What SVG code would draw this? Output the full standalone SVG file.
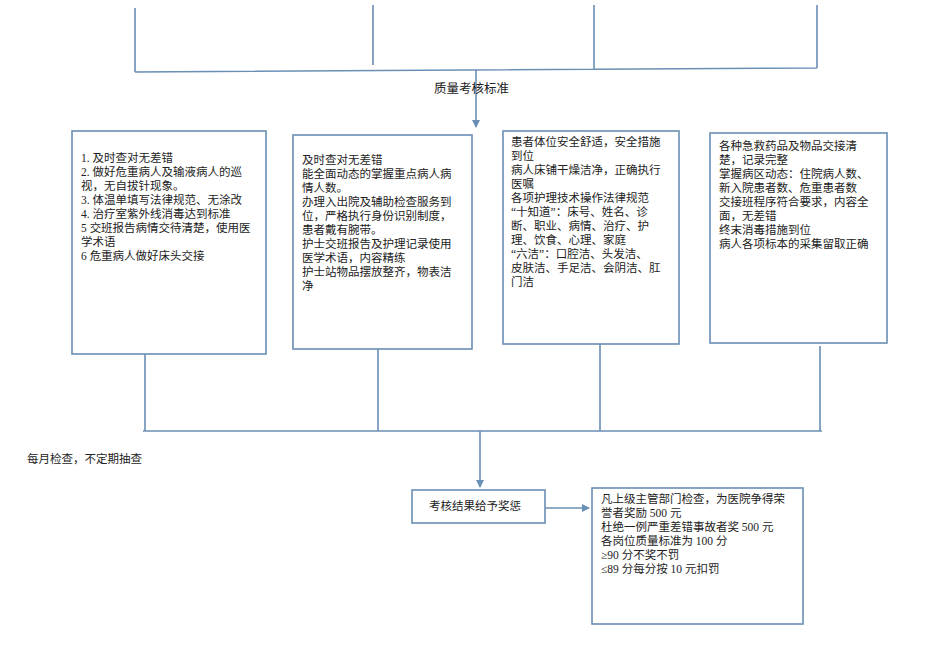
<svg xmlns="http://www.w3.org/2000/svg" width="950" height="672" viewBox="0 0 950 672">
<style>
.b{fill:#fff;stroke:#6a8fb5;stroke-width:1.6}
.l{stroke:#6a8fb5;stroke-width:1.6;fill:none}
text{font-family:"Liberation Serif","Noto Sans CJK SC",serif;font-size:11.5px;fill:#222}
</style>
<defs><marker id="a" markerWidth="8" markerHeight="8" refX="7" refY="4" orient="auto" markerUnits="userSpaceOnUse"><path d="M0,0L8,4L0,8z" fill="#6a8fb5"/></marker></defs>
<g id="connectors">
<path class="l" d="M135,8V72M373,5V65M594,5V70M817,5V68M135,72L817,68"/>
<path class="l" d="M476,70V127" marker-end="url(#a)"/>
<path class="l" d="M145,354V431M378,349V431M600,344V431M820,346V431M143,431H822"/>
<path class="l" d="M480,431V487" marker-end="url(#a)"/>
<path class="l" d="M545,508H589" marker-end="url(#a)"/>
</g>
<g id="title"><text x="434" y="93" style="font-size:12.5px">质量考核标准</text></g>
<g id="n1"><rect class="b" x="72" y="131" width="194" height="223"/>
<text x="81" y="162">1. 及时查对无差错</text>
<text x="81" y="176">2. 做好危重病人及输液病人的巡</text>
<text x="81" y="190">视，无自拔针现象。</text>
<text x="81" y="204">3. 体温单填写法律规范、无涂改</text>
<text x="81" y="218">4. 治疗室紫外线消毒达到标准</text>
<text x="81" y="232">5 交班报告病情交待清楚，使用医</text>
<text x="81" y="246">学术语</text>
<text x="81" y="260">6 危重病人做好床头交接</text></g>
<g id="n2"><rect class="b" x="293" y="135" width="179" height="214"/>
<text x="302" y="164">及时查对无差错</text>
<text x="302" y="178">能全面动态的掌握重点病人病</text>
<text x="302" y="192">情人数。</text>
<text x="302" y="206">办理入出院及辅助检查服务到</text>
<text x="302" y="220">位，严格执行身份识别制度，</text>
<text x="302" y="234">患者戴有腕带。</text>
<text x="302" y="248">护士交班报告及护理记录使用</text>
<text x="302" y="262">医学术语，内容精练</text>
<text x="302" y="276">护士站物品摆放整齐，物表洁</text>
<text x="302" y="290">净</text></g>
<g id="n3"><rect class="b" x="503" y="131" width="176" height="213"/>
<text x="511" y="146">患者体位安全舒适，安全措施</text>
<text x="511" y="160">到位</text>
<text x="511" y="174">病人床铺干燥洁净，正确执行</text>
<text x="511" y="188">医嘱</text>
<text x="511" y="202">各项护理技术操作法律规范</text>
<text x="511" y="216">“十知道”：床号、姓名、诊</text>
<text x="511" y="230">断、职业、病情、治疗、护</text>
<text x="511" y="244">理、饮食、心理、家庭</text>
<text x="511" y="258">“六洁”：口腔洁、头发洁、</text>
<text x="511" y="272">皮肤洁、手足洁、会阴洁、肛</text>
<text x="511" y="286">门洁</text></g>
<g id="n4"><rect class="b" x="710" y="133" width="177" height="210"/>
<text x="719" y="150">各种急救药品及物品交接清</text>
<text x="719" y="164">楚，记录完整</text>
<text x="719" y="178">掌握病区动态：住院病人数、</text>
<text x="719" y="192">新入院患者数、危重患者数</text>
<text x="719" y="206">交接班程序符合要求，内容全</text>
<text x="719" y="220">面，无差错</text>
<text x="719" y="234">终末消毒措施到位</text>
<text x="719" y="248">病人各项标本的采集留取正确</text></g>
<g id="note"><text x="27" y="463">每月检查，不定期抽查</text></g>
<g id="n5"><rect class="b" x="412" y="490" width="133" height="33"/>
<text x="429" y="510">考核结果给予奖惩</text></g>
<g id="n6"><rect class="b" x="592" y="488" width="211" height="136"/>
<text x="601" y="503">凡上级主管部门检查，为医院争得荣</text>
<text x="601" y="517">誉者奖励 500 元</text>
<text x="601" y="531">杜绝一例严重差错事故者奖 500 元</text>
<text x="601" y="545">各岗位质量标准为 100 分</text>
<text x="601" y="559">≥90 分不奖不罚</text>
<text x="601" y="573">≤89 分每分按 10 元扣罚</text></g>
</svg>
